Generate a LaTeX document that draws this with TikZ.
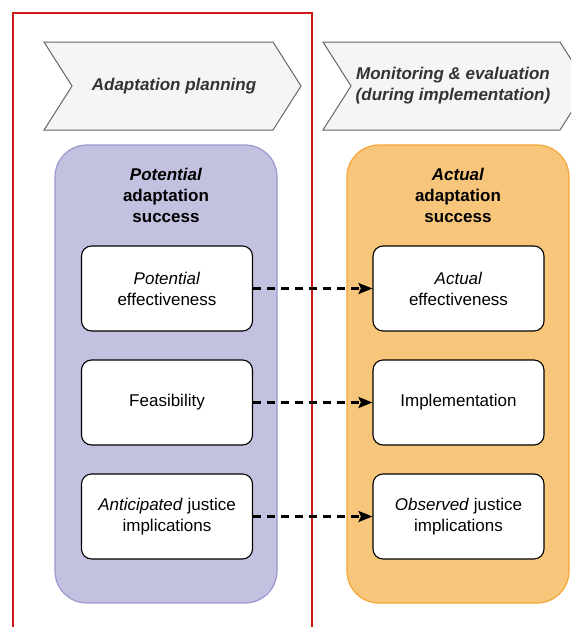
\documentclass[tikz,border=0pt]{standalone}
\usepackage{fontspec}
\setmainfont{Liberation Sans}
\usetikzlibrary{arrows.meta}

\definecolor{chevfill}{HTML}{F5F5F5}
\definecolor{chevline}{HTML}{666666}
\definecolor{chevtext}{HTML}{333333}
\definecolor{purplefill}{HTML}{C3C1E0}
\definecolor{purpleline}{HTML}{9D98CF}
\definecolor{orangefill}{HTML}{F7C67B}
\definecolor{orangeline}{HTML}{F5A634}
\definecolor{framered}{HTML}{D01818}

\begin{document}
\begin{tikzpicture}[x=1pt, y=-1pt,
  txt/.style={font=\fontsize{17}{21}\selectfont, align=center},
  phase/.style={fill=chevfill, draw=chevline, line width=1pt, line join=miter},
  phasetext/.style={txt, text=chevtext, font=\fontsize{17}{21}\selectfont\bfseries\itshape},
  group/.style={rounded corners=32pt, line width=1.2pt, minimum width=222pt, minimum height=458pt, inner sep=0pt},
  grouptitle/.style={txt, font=\fontsize{17}{21}\selectfont\bfseries},
  item/.style={txt, draw=black, fill=white, line width=1.1pt, rounded corners=10pt,
    minimum width=171pt, minimum height=85pt, inner sep=0pt},
  link/.style={line width=2.5pt, dash pattern=on 8pt off 6pt,
    -{Stealth[length=14pt, width=11pt, inset=2.5pt]}}
]
\useasboundingbox (0,0) rectangle (571,627);
\clip (0,0) rectangle (571,627);

% frame around the planning stage (open at the bottom)
\draw[framered, line width=1.3pt] (13,627) -- (13,13) -- (312,13) -- (312,627);

% stage chevrons
\draw[phase] (44,42) -- (273,42) -- (301,86) -- (273,130) -- (44,130) -- (72,86) -- cycle;
\node[phasetext] (plan) at (174,86) {Adaptation planning};
\draw[phase] (323,42) -- (560,42) -- (588,86) -- (560,130) -- (323,130) -- (351,86) -- cycle;
\node[phasetext] (monitor) at (453,86) {Monitoring \& evaluation\\(during implementation)};

% success groups
\node[group, fill=purplefill, draw=purpleline] (potential) at (166,374) {};
\node[group, fill=orangefill, draw=orangeline] (actual) at (458,374) {};
\node[grouptitle] (potentialtitle) at (166,195) {\textit{Potential}\\adaptation\\success};
\node[grouptitle] (actualtitle) at (458,195) {\textit{Actual}\\adaptation\\success};

% criteria
\node[item] (p1) at (167,288.5) {\textit{Potential}\\effectiveness};
\node[item] (p2) at (167,402.5) {Feasibility};
\node[item] (p3) at (167,516.5) {\textit{Anticipated} justice\\implications};
\node[item] (a1) at (458.5,288.5) {\textit{Actual}\\effectiveness};
\node[item] (a2) at (458.5,402.5) {Implementation};
\node[item] (a3) at (458.5,516.5) {\textit{Observed} justice\\implications};

% correspondences
\draw[link] (p1.east) -- (a1.west);
\draw[link] (p2.east) -- (a2.west);
\draw[link] (p3.east) -- (a3.west);
\end{tikzpicture}
\end{document}
